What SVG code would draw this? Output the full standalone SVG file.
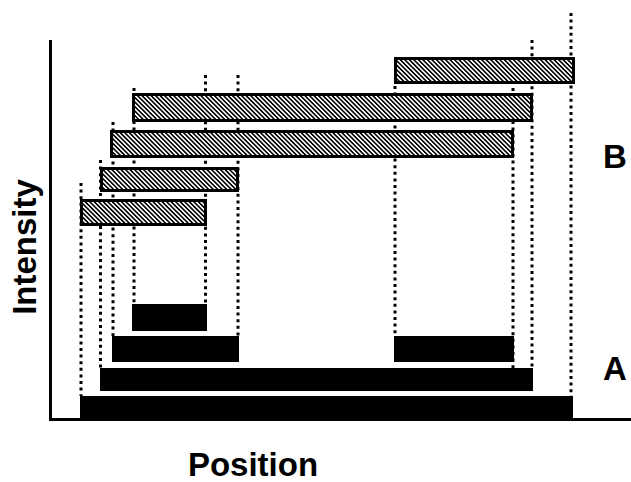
<svg xmlns="http://www.w3.org/2000/svg" width="631" height="482" viewBox="0 0 631 482">
  <style>
    .guide { stroke: #000; stroke-width: 3; stroke-dasharray: 3 3.6; fill: none; }
    .solid { fill: #000; }
    .hatch { fill: url(#diag); stroke: #000; stroke-width: 3; }
    .axis { fill: #000; }
    .lbl { font-family: "Liberation Sans", Arial, sans-serif; font-weight: bold; font-size: 33px; fill: #000; }
  </style>
  <defs>
    <pattern id="diag" patternUnits="userSpaceOnUse" width="3.2" height="3.2" patternTransform="rotate(-45)">
      <rect width="3.2" height="3.2" fill="#fff"/>
      <rect width="1.6" height="3.2" fill="#000"/>
    </pattern>
  </defs>
  <rect width="631" height="482" fill="#fff"/>

  <!-- dotted alignment guides -->
  <g id="connectors">
    <line class="guide" x1="81" y1="183" x2="81" y2="396"/>
    <line class="guide" x1="100.5" y1="160" x2="100.5" y2="368"/>
    <line class="guide" x1="113" y1="122" x2="113" y2="336"/>
    <line class="guide" x1="134" y1="88" x2="134" y2="304"/>
    <line class="guide" x1="205.5" y1="75" x2="205.5" y2="304"/>
    <line class="guide" x1="238" y1="75" x2="238" y2="336"/>
    <line class="guide" x1="395" y1="86" x2="395" y2="336"/>
    <line class="guide" x1="513" y1="88" x2="513" y2="368"/>
    <line class="guide" x1="532" y1="40" x2="532" y2="368"/>
    <line class="guide" x1="571" y1="13" x2="571" y2="396"/>
  </g>

  <!-- axes -->
  <g id="axes">
    <rect class="axis" x="49" y="40" width="3" height="381"/>
    <rect class="axis" x="49" y="418" width="582" height="3"/>
  </g>

  <!-- series B: hatched bars -->
  <g id="b1"><rect class="hatch" x="81.5" y="200.5" width="124" height="24"/></g>
  <g id="b2"><rect class="hatch" x="101.5" y="168.5" width="136" height="22"/></g>
  <g id="b3"><rect class="hatch" x="111.5" y="131.5" width="401" height="25"/></g>
  <g id="b4"><rect class="hatch" x="133.5" y="94.5" width="398" height="26"/></g>
  <g id="b5"><rect class="hatch" x="395.5" y="58.5" width="178" height="24"/></g>

  <!-- series A: solid bars -->
  <g id="a1"><rect class="solid" x="80" y="396" width="493" height="25"/></g>
  <g id="a2"><rect class="solid" x="100" y="368" width="433" height="23"/></g>
  <g id="a3-left"><rect class="solid" x="112" y="336" width="127" height="26"/></g>
  <g id="a3-right"><rect class="solid" x="394" y="336" width="120" height="26"/></g>
  <g id="a4"><rect class="solid" x="132" y="304" width="75" height="27"/></g>

  <!-- labels -->
  <g id="labels">
    <text class="lbl" x="603" y="168">B</text>
    <text class="lbl" x="603" y="380">A</text>
    <text class="lbl" x="253" y="476" text-anchor="middle">Position</text>
    <text class="lbl" transform="translate(36,247) rotate(-90)" text-anchor="middle">Intensity</text>
  </g>
</svg>
